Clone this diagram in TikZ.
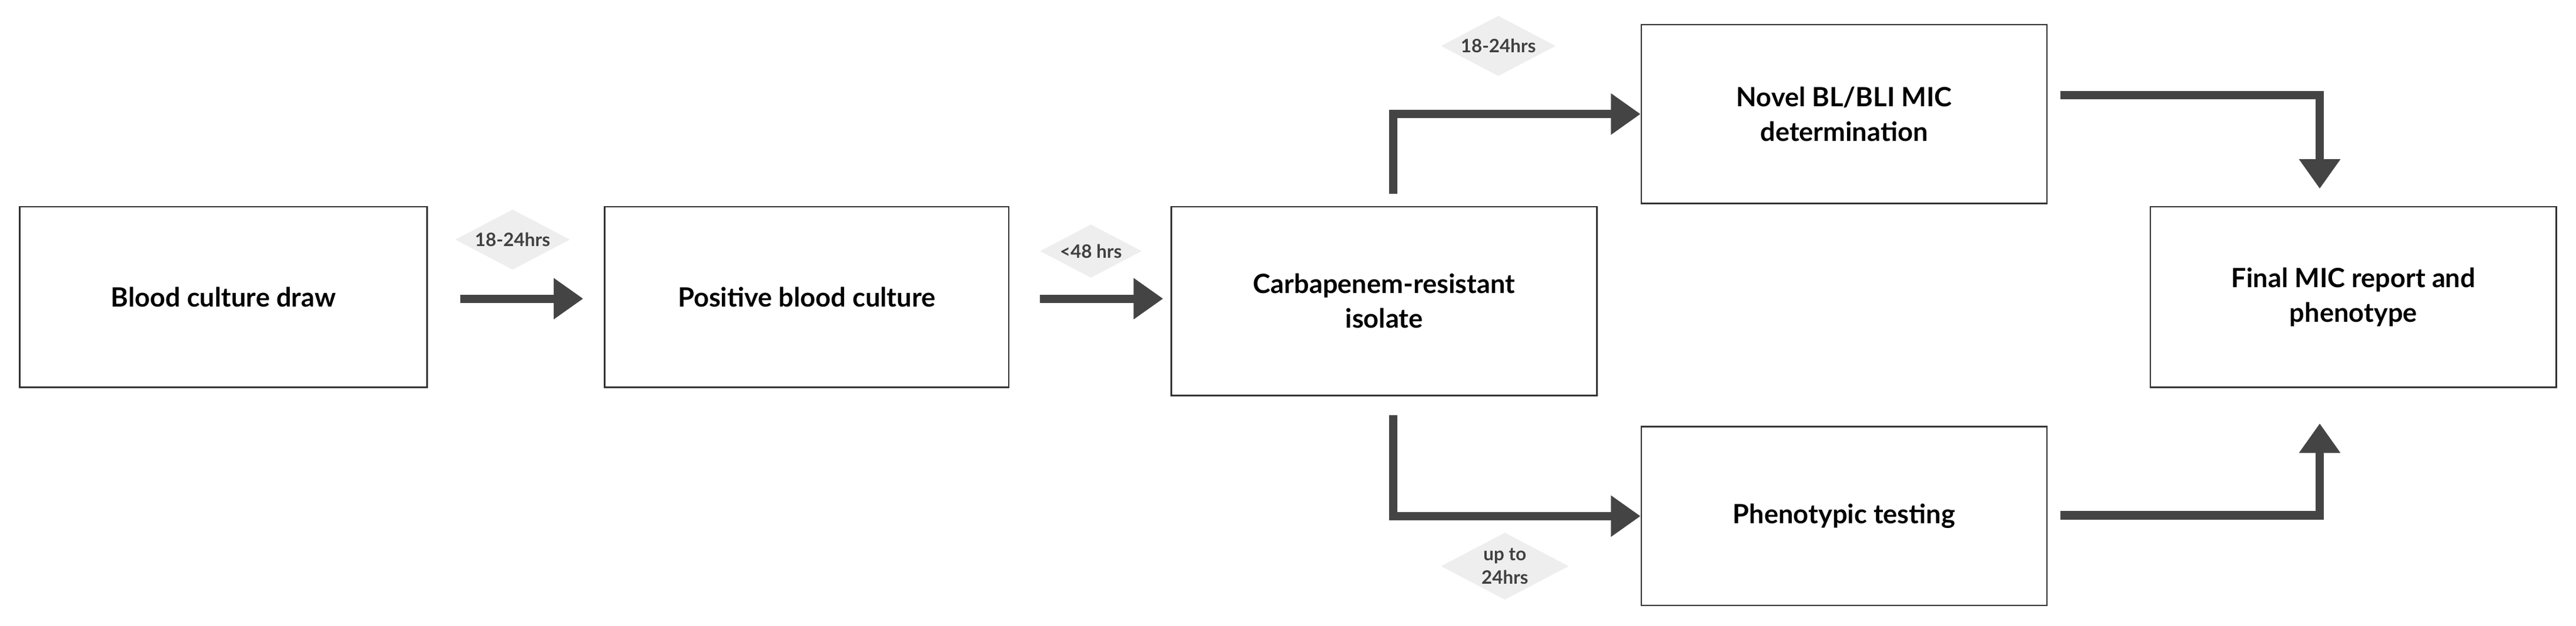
\documentclass[tikz,border=0pt]{standalone}
\usepackage{fontspec}
\setmainfont{Lato}
\usetikzlibrary{arrows.meta,shapes.geometric}
\definecolor{arr}{HTML}{444444}
\definecolor{dia}{HTML}{EEEEEE}
\begin{document}
\begin{tikzpicture}[x=0.025cm,y=-0.025cm,
  box/.style={draw=black!80,line width=0.6pt,fill=white,align=center,font=\fontsize{11.5}{15}\selectfont\bfseries,inner sep=0pt},
  flow/.style={draw=arr,line width=3.6pt,-{Triangle[length=0.45cm,width=0.6cm]}},
  lab/.style={diamond,fill=dia,align=center,inner sep=1pt,aspect=1.9,font=\fontsize{8}{10}\selectfont\bfseries,text=black!75}]
\useasboundingbox (0,0) rectangle (1568,381.4);
\node[box,minimum width=248*0.025cm,minimum height=110*0.025cm] (a) at (136,181) {Blood culture draw};
\node[box,minimum width=246*0.025cm,minimum height=110*0.025cm] (b) at (491,181) {Positive blood culture};
\node[box,minimum width=259*0.025cm,minimum height=115*0.025cm] (c) at (842.5,183.5) {Carbapenem-resistant\\isolate};
\node[box,minimum width=247*0.025cm,minimum height=109*0.025cm] (d) at (1122.5,69.5) {Novel BL/BLI MIC\\determination};
\node[box,minimum width=247*0.025cm,minimum height=109*0.025cm] (e) at (1122.5,314.5) {Phenotypic testing};
\node[box,minimum width=247*0.025cm,minimum height=110*0.025cm] (f) at (1432.5,181) {Final MIC report and\\phenotype};
\coordinate (c1) at (848,118); \coordinate (c2) at (848,253);
\coordinate (d1) at (1254,58); \coordinate (e1) at (1254,314);
\coordinate (f1) at (1412,115); \coordinate (f2) at (1412,258);
\node[lab] (l1) at (312,146) {18-24hrs};
\node[lab] (l2) at (664,153) {<48 hrs};
\node[lab] (l3) at (912,28) {18-24hrs};
\node[lab] (l4) at (916,345) {up to\\24hrs};
\draw[flow] (280,182) coordinate (s1) -- (355,182) coordinate (t1);
\draw[flow] (633,182) coordinate (s2) -- (708,182) coordinate (t2);
\draw[flow] (c1) |- (d.west);
\draw[flow] (c2) |- (e.west);
\draw[flow] (d1) -| (f1);
\draw[flow] (e1) -| (f2);
\end{tikzpicture}
\end{document}
